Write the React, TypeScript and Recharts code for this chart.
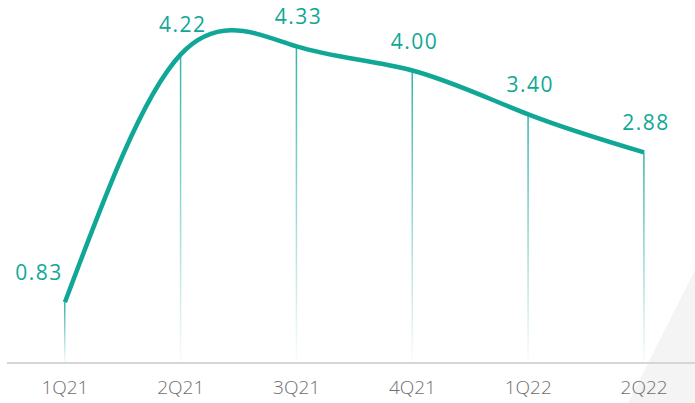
import { ComposedChart, Line, Bar, XAxis, YAxis, LabelList } from 'recharts';

const quarters = ['1Q21', '2Q21', '3Q21', '4Q21', '1Q22', '2Q22'];
const values = [0.83, 4.22, 4.33, 4.0, 3.4, 2.88];

const data = quarters.map((q, i) => ({ quarter: q, value: values[i] }));

const TEAL = '#11a797';

const PointLabel = (props: any) => {
    const { x, y, value, index } = props;
    // first label sits to the left, the curve rises steeply right of it
    const dx = index === 0 ? -26 : 2;
    return (
        <text
            x={x + dx}
            y={y - 22}
            textAnchor="middle"
            fill={TEAL}
            fontSize={21}
            fontFamily="Open Sans"
            letterSpacing={1.5}
        >
            {Number(value).toFixed(2)}
        </text>
    );
};

const App = () => {
    return (
        <div style={{ position: 'absolute', left: 0, top: 0, width: 695, height: 403, overflow: 'hidden', background: '#fff' }}>
            <svg width={695} height={403} style={{ position: 'absolute', left: 0, top: 0 }}>
                <polygon points="695,270 628,403 695,403" fill="#f4f4f4" />
            </svg>
            <div style={{ position: 'absolute', left: 0, top: 0 }}>
                <ComposedChart width={702} height={403} data={data} margin={{ top: 12, right: 0, bottom: 0, left: 7 }}>
                    <defs>
                        <linearGradient id="dropFade" x1="0" y1="0" x2="0" y2="1">
                            <stop offset="0%" stopColor={TEAL} stopOpacity={0.85} />
                            <stop offset="100%" stopColor={TEAL} stopOpacity={0.02} />
                        </linearGradient>
                    </defs>
                    <XAxis
                        dataKey="quarter"
                        height={40}
                        tickLine={false}
                        axisLine={{ stroke: '#d6d6d6', strokeWidth: 2 }}
                        tick={{ fill: '#6e6e6e', fontSize: 19, fontFamily: 'Open Sans', fontWeight: 300 }}
                        tickMargin={12}
                        interval={0}
                    />
                    <YAxis hide domain={[0, 4.8]} />
                    <Bar dataKey="value" barSize={1.5} fill="url(#dropFade)" isAnimationActive={false} />
                    <Line
                        type="natural"
                        dataKey="value"
                        stroke={TEAL}
                        strokeWidth={4.5}
                        dot={false}
                        activeDot={false}
                        isAnimationActive={false}
                    >
                        <LabelList dataKey="value" content={PointLabel} />
                    </Line>
                </ComposedChart>
            </div>
        </div>
    );
};

export default App;
